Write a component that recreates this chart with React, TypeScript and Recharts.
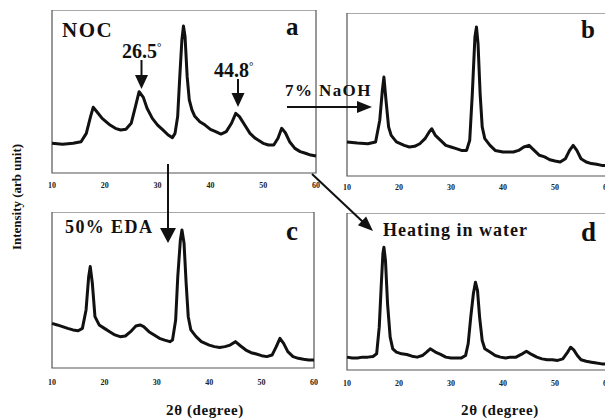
import React from "react";
import { LineChart, Line, XAxis, YAxis, ReferenceArea } from "recharts";

// ---- Panel a: NOC ----
const nocTheta = [10, 12, 14, 15.5, 16.5, 17.3, 17.8, 18.5, 19.5, 21, 22, 23, 24, 25, 25.8, 26.5, 27.3, 28, 29, 30, 31, 32, 32.8, 33.3, 33.8, 34.2, 34.6, 34.9, 35.2, 35.6, 36, 36.5, 37, 38, 39, 40, 41, 42, 43, 44, 44.8, 45.5, 46.5, 47.5, 48.5, 50, 51, 52, 52.8, 53.5, 54.2, 55, 56, 57, 58, 59, 60];
const nocIntensity = [18.2, 17.6, 18.2, 19.2, 24.3, 34.6, 40.3, 37.6, 33.5, 29.4, 27.4, 26.4, 26.8, 30.5, 40.7, 49.9, 46.4, 39.7, 33.5, 29.4, 26.4, 23.3, 21.7, 24.3, 34.6, 59.1, 81.6, 90.2, 83.6, 59.1, 44.8, 38.7, 35.0, 31.5, 29.4, 26.8, 25.4, 23.9, 25.4, 30.5, 36.6, 34.6, 29.4, 24.3, 21.3, 18.2, 17.2, 17.2, 21.3, 27.4, 24.7, 19.2, 15.1, 13.1, 12.1, 11.0, 10.4];

// ---- Panel b: 7% NaOH ----
const naohTheta = [10, 12, 14, 15.5, 16.3, 16.8, 17.1, 17.5, 18, 18.5, 19.5, 21, 22, 23, 24, 25, 25.8, 26.3, 27, 28, 29, 30, 31, 32, 33, 33.6, 34.1, 34.6, 34.9, 35.2, 35.6, 36, 36.5, 37.5, 38.5, 40, 41, 42, 43, 44, 45, 46, 47, 48, 49, 50, 51, 52, 52.8, 53.5, 54.2, 55, 56, 57, 58, 59, 60];
const naohIntensity = [20.9, 20.2, 19.8, 20.9, 34.2, 52.6, 60.7, 46.4, 30.1, 24.9, 20.9, 18.8, 17.8, 18.2, 19.8, 22.9, 27.0, 29.0, 24.9, 21.9, 18.8, 17.8, 16.8, 15.7, 15.7, 21.9, 50.5, 85.3, 91.4, 81.2, 50.5, 30.1, 22.9, 18.8, 15.7, 14.7, 14.7, 14.7, 15.7, 17.8, 18.8, 15.7, 12.7, 11.7, 10.0, 9.2, 8.6, 10.6, 15.7, 18.8, 15.7, 10.6, 8.6, 7.6, 7.2, 6.5, 6.5];

// ---- Panel c: 50% EDA ----
const edaTheta = [10, 11, 12, 13, 14, 15, 15.8, 16.5, 17, 17.3, 17.7, 18.2, 19, 20, 21, 22, 23, 24, 25, 26, 26.8, 27.5, 28.5, 29.5, 30.5, 31.5, 32.5, 33, 33.6, 34, 34.5, 34.8, 35.2, 35.6, 36, 36.5, 37.5, 38.5, 40, 41, 42, 43, 44, 45, 46, 47, 48, 49, 50, 51, 52, 52.8, 53.5, 54.2, 55, 56, 57, 58, 59, 60];
const edaIntensity = [28.6, 27.6, 26.5, 25.4, 24.4, 23.9, 25.4, 37.2, 58.5, 65.0, 54.3, 32.9, 27.6, 25.4, 23.3, 21.2, 20.1, 20.5, 23.3, 26.9, 27.6, 26.5, 23.3, 21.2, 19.0, 17.9, 16.9, 17.9, 30.8, 58.5, 82.1, 88.5, 79.9, 54.3, 32.9, 24.4, 20.1, 16.9, 14.7, 13.7, 13.2, 13.7, 14.7, 16.9, 14.1, 11.5, 9.8, 9.0, 7.9, 7.3, 8.3, 13.7, 19.0, 15.8, 10.5, 7.3, 6.2, 5.6, 5.1, 5.1];

// ---- Panel d: Heating in water ----
const waterTheta = [10, 11, 12, 13, 14, 15, 15.7, 16.2, 16.6, 16.9, 17.1, 17.4, 17.8, 18.3, 18.8, 19.5, 20.5, 21.5, 22.5, 23.5, 24.5, 25.3, 26, 27, 28, 29, 30, 31, 32, 32.8, 33.3, 33.8, 34.3, 34.7, 35.1, 35.5, 36, 36.5, 37.5, 38.5, 39.5, 40.5, 41.5, 42.5, 43.5, 44.5, 45.5, 46.5, 47.5, 48.5, 49.5, 50.5, 51.5, 52.3, 53, 53.6, 54.3, 55, 56, 57, 58, 59, 60];
const waterIntensity = [8.2, 7.7, 7.7, 8.2, 8.2, 8.6, 10.3, 27.3, 54.9, 74.0, 78.2, 69.7, 42.1, 20.9, 13.5, 11.4, 10.3, 9.9, 8.8, 8.2, 9.2, 11.4, 13.5, 11.4, 9.9, 8.2, 7.7, 7.7, 7.7, 9.2, 16.7, 33.7, 48.5, 55.9, 50.6, 33.7, 18.8, 13.5, 11.4, 9.2, 8.2, 7.7, 8.2, 8.2, 9.9, 12.0, 9.9, 8.2, 7.1, 6.5, 6.5, 6.1, 7.1, 10.7, 14.5, 12.8, 9.2, 6.5, 5.6, 5.0, 4.4, 3.9, 3.9];

const xTicks = [10, 20, 30, 40, 50, 60];

const SERIF = "'Liberation Serif', 'Times New Roman', serif";

type PanelProps = {
  theta: number[];
  intensity: number[];
  left: number;
  top: number;
  w: number;
  h: number;
  tickGap: number;
};

function Panel({ theta, intensity, left, top, w, h, tickGap }: PanelProps) {
  const data = theta.map((t, i) => ({ t, v: intensity[i] }));
  const axisH = 24;
  const pad = 14;
  return (
    <div style={{ position: "absolute", left: left - pad, top, width: w + 2 * pad, height: h + axisH }}>
      <LineChart
        width={w + 2 * pad}
        height={h + axisH}
        data={data}
        margin={{ top: 0, right: pad, bottom: 0, left: pad }}
      >
        <XAxis
          dataKey="t"
          type="number"
          domain={[10, 60]}
          ticks={xTicks}
          height={axisH}
          axisLine={false}
          tickLine={false}
          tickSize={4}
          tickMargin={tickGap}
          interval={0}
          tick={{ fontSize: 8, fontWeight: "bold", fill: "#222", fontFamily: SERIF }}
        />
        <YAxis type="number" domain={[0, 100]} hide />
        <ReferenceArea x1={10} x2={60} y1={0} y2={100} fill="none" stroke="#555" strokeWidth={1.2} ifOverflow="visible" />
        <Line
          type="linear"
          dataKey="v"
          stroke="#111"
          strokeWidth={3}
          dot={false}
          isAnimationActive={false}
          strokeLinejoin="round"
        />
      </LineChart>
    </div>
  );
}

export default function App() {
  const bold = { fontFamily: SERIF, fontWeight: "bold" as const, fill: "#111" };
  return (
    <div
      style={{
        position: "absolute",
        left: 0,
        top: 0,
        width: 605,
        height: 420,
        overflow: "hidden",
        background: "#fff",
      }}
    >
      <Panel theta={nocTheta} intensity={nocIntensity} left={52} top={10} w={264} h={163} tickGap={5} />
      <Panel theta={naohTheta} intensity={naohIntensity} left={347} top={13} w={260} h={163} tickGap={4} />
      <Panel theta={edaTheta} intensity={edaIntensity} left={52} top={212} w={262} h={156} tickGap={7} />
      <Panel theta={waterTheta} intensity={waterIntensity} left={347} top={213} w={260} h={157} tickGap={6} />

      <svg
        width={605}
        height={420}
        style={{ position: "absolute", left: 0, top: 0, pointerEvents: "none" }}
      >
        {/* panel labels */}
        <text x={62} y={37} fontSize={21} letterSpacing={1.5} {...bold}>NOC</text>
        <text x={286} y={35} fontSize={25} {...bold}>a</text>
        <text x={581} y={38} fontSize={25} {...bold}>b</text>
        <text x={286} y={240} fontSize={27} {...bold}>c</text>
        <text x={581} y={241} fontSize={27} {...bold}>d</text>

        {/* peak markers */}
        <text x={122} y={58} fontSize={20} {...bold}>26.5<tspan fontSize={11} dy={-7}>°</tspan></text>
        <line x1={141.5} y1={60} x2={141.5} y2={77} stroke="#111" strokeWidth={2} />
        <polygon points="135,75 148,75 141.5,89" fill="#111" />

        <text x={214} y={77} fontSize={20} {...bold}>44.8<tspan fontSize={11} dy={-7}>°</tspan></text>
        <line x1={238} y1={79} x2={238} y2={94} stroke="#111" strokeWidth={2} />
        <polygon points="231.5,93 244.5,93 238,107" fill="#111" />

        {/* 7% NaOH arrow */}
        <text x={285} y={96} fontSize={17} letterSpacing={1.4} {...bold}>7% NaOH</text>
        <line x1={287} y1={107} x2={359} y2={107} stroke="#111" strokeWidth={2} />
        <polygon points="357,101 357,113 372,107" fill="#111" />

        {/* 50% EDA arrow */}
        <line x1={168} y1={164} x2={168} y2={229} stroke="#111" strokeWidth={2} />
        <polygon points="160,228 176,228 168,243" fill="#111" />
        <text x={65} y={233} fontSize={18} letterSpacing={1.4} {...bold}>50% EDA</text>

        {/* Heating in water arrow */}
        <line x1={312} y1={174} x2={363} y2={222} stroke="#111" strokeWidth={2} />
        <polygon points="357.9,225.2 366.1,216.4 373,231" fill="#111" />
        <text x={383} y={236} fontSize={18} letterSpacing={1} {...bold}>Heating in water</text>

        {/* axis titles */}
        <text
          x={18}
          y={197}
          fontSize={13}
          textAnchor="middle"
          dominantBaseline="middle"
          transform="rotate(-90 18 197)"
          {...bold}
        >
          Intensity (arb unit)
        </text>
        <text x={205} y={415} fontSize={15} textAnchor="middle" letterSpacing={0.6} {...bold}>2θ (degree)</text>
        <text x={500} y={415} fontSize={15} textAnchor="middle" letterSpacing={0.6} {...bold}>2θ (degree)</text>
      </svg>
    </div>
  );
}
